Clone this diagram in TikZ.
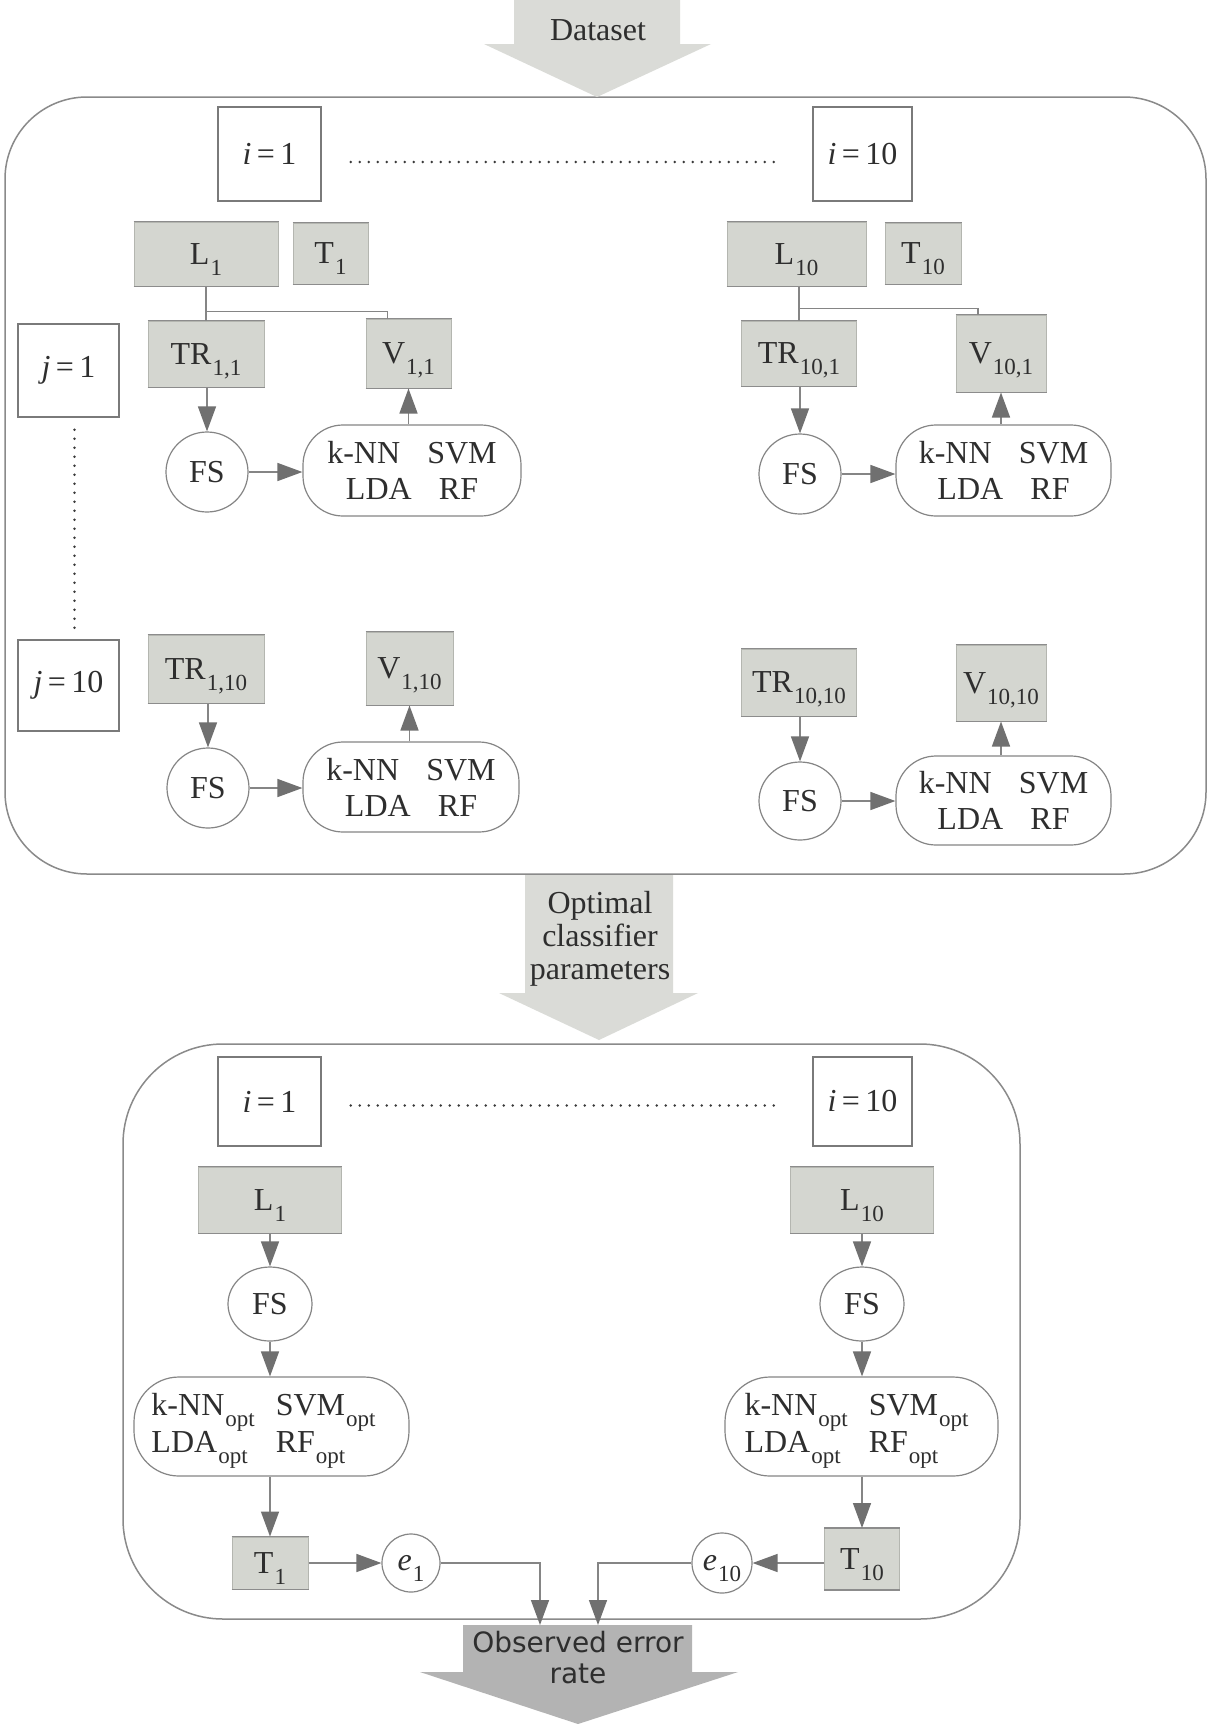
\documentclass[tikz,border=0pt]{standalone}
\usepackage{fontspec}
\setmainfont{Liberation Serif}
\newfontfamily\obsfont{DejaVu Sans}
\usetikzlibrary{arrows.meta,calc,shapes.geometric}
\definecolor{boxfill}{HTML}{D4D6D0}
\definecolor{boxline}{HTML}{B4B6B0}
\definecolor{boxedge}{HTML}{8C8C8C}
\definecolor{arrfill}{HTML}{DADBD7}
\definecolor{obsfill}{HTML}{B3B3B3}
\definecolor{linec}{HTML}{858585}
\definecolor{headc}{HTML}{707070}
\definecolor{txt}{HTML}{2E2E2E}
\definecolor{outline}{HTML}{8A8A8A}
\definecolor{iline}{HTML}{7A7A7A}
\definecolor{dotc}{HTML}{3A3A3A}
\newcommand{\subx}[1]{\kern1pt\raisebox{-0.34em}[0pt][0pt]{\fontsize{23}{23}\selectfont #1}}
\begin{document}
\begin{tikzpicture}[x=1pt,y=-1pt,
  every node/.style={text=txt, font=\fontsize{32}{36}\selectfont, inner sep=0pt},
  gbox/.style={rectangle, fill=boxfill, draw=boxline, line width=1pt,
    append after command={(\tikzlastnode.north west) edge[draw=boxedge, line width=1.6pt] (\tikzlastnode.north east)
      (\tikzlastnode.south west) edge[draw=boxedge, line width=1.6pt] (\tikzlastnode.south east)}},
  ibox/.style={rectangle, fill=white, draw=iline, line width=1.5pt},
  fsnode/.style={ellipse, fill=white, draw=linec, line width=1.2pt},
  enode/.style={circle, fill=white, draw=linec, line width=1.2pt},
  clsbox/.style={rectangle, rounded corners=40pt, fill=white, draw=linec, line width=1.2pt, align=center},
  outerbox/.style={rectangle, draw=outline, line width=1.5pt},
  arr/.style={draw=linec, line width=1.5pt, -{Triangle[length=25pt,width=18pt,color=headc]}},
  plain/.style={draw=linec, line width=1.5pt},
  dotsline/.style={draw=dotc, line width=2.8pt, line cap=round, dash pattern=on 0pt off 9pt}
]
\fill[white] (0,0) rectangle (1208,1724);
\useasboundingbox (0,0) rectangle (1208,1724);

% ---------- outer boxes ----------
\node[outerbox, rounded corners=82pt, minimum width=1201pt, minimum height=777pt] (outerA) at (605.5,485.5) {};
\node[outerbox, rounded corners=100pt, minimum width=897pt, minimum height=575pt] (outerB) at (571.5,1331.5) {};

% ---------- big arrows ----------
\fill[arrfill] (514,0) -- (680,0) -- (680,44) -- (711,44) -- (597,97) -- (484,44) -- (514,44) -- cycle;
\node (dataset) at (598,30) {Dataset};

\fill[arrfill] (525,875) -- (673,875) -- (673,993) -- (698,993) -- (599,1040) -- (499,993) -- (525,993) -- cycle;
\node[align=center, font=\fontsize{32}{33}\selectfont] (optp) at (600,939) {Optimal\\classifier\\parameters};

\fill[obsfill] (463,1625) -- (692,1625) -- (692,1672) -- (738,1672) -- (578,1724) -- (420,1672) -- (463,1672) -- cycle;
\node[align=center, font=\obsfont\fontsize{28}{31}\selectfont] (obs) at (578,1658) {Observed error\\rate};
\coordinate (obsL) at (540,1625);
\coordinate (obsR) at (598,1625);

% ---------- top section: index boxes ----------
\node[ibox, minimum width=103pt, minimum height=94pt] (iA1) at (269.5,154) {\textit{i}\,=\,1};
\node[ibox, minimum width=99pt, minimum height=94pt] (iA10) at (862.5,154) {\textit{i}\,=\,10};
\draw[dotsline] ($(iA1.east)+(29,8)$) -- ($(iA10.west)+(-35,8)$);

\node[ibox, minimum width=101pt, minimum height=93pt] (j1) at (68.5,370.5) {\textit{j}\,=\,1};
\node[ibox, minimum width=101pt, minimum height=91pt] (j10) at (68.5,685.5) {\textit{j}\,=\,10};
\draw[dotsline] ($(j1.south)+(6,12)$) -- ($(j10.north)+(6,-11)$);

% ---------- top-left block ----------
\node[gbox, minimum width=144pt, minimum height=64pt] (LA1) at (206,254) {L\subx{1}};
\node[gbox, minimum width=75pt, minimum height=61pt] (TA1) at (330.5,253.5) {T\subx{1}};
\node[gbox, minimum width=116pt, minimum height=66pt] (TR11) at (206,354) {TR\subx{1,1}};
\node[gbox, minimum width=85pt, minimum height=69pt] (V11) at (408.5,353.5) {V\subx{1,1}};
\node[fsnode, minimum width=82pt, minimum height=80pt] (FS11) at (207,472) {FS};
\node[clsbox, minimum width=218pt, minimum height=91pt] (C11) at (412,470.5) {k-NN\hspace{0.85em}SVM\\LDA\hspace{0.85em}RF};
\draw[plain] (LA1.south) -- (LA1.south |- TR11.north);
\draw[plain] ($(LA1.south)+(0,25)$) -| ($(V11.north)+(-21,0)$);
\draw[arr] (TR11.south -| FS11.north) -- (FS11.north);
\draw[arr] (FS11.east) -- (FS11.east -| C11.west);
\draw[arr] (V11.south |- C11.north) -- (V11.south);

% ---------- top-right block ----------
\node[gbox, minimum width=139pt, minimum height=64pt] (LA10) at (796.5,254) {L\subx{10}};
\node[gbox, minimum width=76pt, minimum height=61pt] (TA10) at (923,253.5) {T\subx{10}};
\node[gbox, minimum width=115pt, minimum height=65pt] (TR101) at (799,353.5) {TR\subx{10,1}};
\node[gbox, minimum width=90pt, minimum height=77pt] (V101) at (1001,353.5) {V\subx{10,1}};
\node[fsnode, minimum width=82pt, minimum height=80pt] (FS101) at (800,474) {FS};
\node[clsbox, minimum width=215pt, minimum height=91pt] (C101) at (1003.5,470.5) {k-NN\hspace{0.85em}SVM\\LDA\hspace{0.85em}RF};
\draw[plain] (TR101.north |- LA10.south) -- (TR101.north);
\draw[plain] ($(TR101.north |- LA10.south)+(0,22)$) -| ($(V101.north)+(-23,0)$);
\draw[arr] (TR101.south -| FS101.north) -- (FS101.north);
\draw[arr] (FS101.east) -- (FS101.east -| C101.west);
\draw[arr] (V101.south |- C101.north) -- (V101.south);

% ---------- j=10 left block ----------
\node[gbox, minimum width=116pt, minimum height=68pt] (TR110) at (206,669) {TR\subx{1,10}};
\node[gbox, minimum width=87pt, minimum height=73pt] (V110) at (409.5,668.5) {V\subx{1,10}};
\node[fsnode, minimum width=82pt, minimum height=80pt] (FS110) at (208,788) {FS};
\node[clsbox, minimum width=216pt, minimum height=90pt] (C110) at (411,787) {k-NN\hspace{0.85em}SVM\\LDA\hspace{0.85em}RF};
\draw[arr] (TR110.south -| FS110.north) -- (FS110.north);
\draw[arr] (FS110.east) -- (FS110.east -| C110.west);
\draw[arr] (V110.south |- C110.north) -- (V110.south);

% ---------- j=10 right block ----------
\node[gbox, minimum width=115pt, minimum height=67pt] (TR1010) at (799,682.5) {TR\subx{10,10}};
\node[gbox, minimum width=90pt, minimum height=76pt] (V1010) at (1001,683) {V\subx{10,10}};
\node[fsnode, minimum width=82pt, minimum height=78pt] (FS1010) at (800,801) {FS};
\node[clsbox, minimum width=215pt, minimum height=89pt] (C1010) at (1003.5,800.5) {k-NN\hspace{0.85em}SVM\\LDA\hspace{0.85em}RF};
\draw[arr] (TR1010.south -| FS1010.north) -- (FS1010.north);
\draw[arr] (FS1010.east) -- (FS1010.east -| C1010.west);
\draw[arr] (V1010.south |- C1010.north) -- (V1010.south);

% ---------- bottom section ----------
\node[ibox, minimum width=103pt, minimum height=89pt] (iB1) at (269.5,1101.5) {\textit{i}\,=\,1};
\node[ibox, minimum width=99pt, minimum height=89pt] (iB10) at (862.5,1101.5) {\textit{i}\,=\,10};
\draw[dotsline] ($(iB1.east)+(29,4)$) -- ($(iB10.west)+(-35,4)$);

\node[gbox, minimum width=143pt, minimum height=66pt] (LB1) at (270,1200) {L\subx{1}};
\node[fsnode, minimum width=84pt, minimum height=74pt] (FSB1) at (270,1304) {FS};
\node[clsbox, rounded corners=45pt, minimum width=275pt, minimum height=99pt] (CB1) at (271.5,1426.5)
  {\fontsize{32}{37}\selectfont\begin{tabular}{@{}l@{\hspace{21pt}}l@{}}k-NN\subx{opt} & SVM\subx{opt}\\ LDA\subx{opt} & RF\subx{opt}\end{tabular}\hspace{16pt}};
\node[gbox, minimum width=76pt, minimum height=52pt] (TB1) at (270,1563) {T\subx{1}};
\node[enode, minimum size=58pt] (e1) at (411,1563) {\textit{e}\subx{1}};

\node[gbox, minimum width=143pt, minimum height=66pt] (LB10) at (862,1200) {L\subx{10}};
\node[fsnode, minimum width=84pt, minimum height=74pt] (FSB10) at (862,1304) {FS};
\node[clsbox, rounded corners=45pt, minimum width=273pt, minimum height=99pt] (CB10) at (861.5,1426.5)
  {\fontsize{32}{37}\selectfont\begin{tabular}{@{}l@{\hspace{21pt}}l@{}}k-NN\subx{opt} & SVM\subx{opt}\\ LDA\subx{opt} & RF\subx{opt}\end{tabular}\hspace{10pt}};
\node[gbox, minimum width=75pt, minimum height=61pt] (TB10) at (862,1559) {T\subx{10}};
\node[enode, minimum size=60pt] (e10) at (722,1563) {\textit{e}\subx{10}};

\draw[arr] (LB1.south) -- (FSB1.north);
\draw[arr] (FSB1.south) -- (FSB1.south |- CB1.north);
\draw[arr] (TB1.north |- CB1.south) -- (TB1.north);
\draw[arr] (TB1.east |- e1.west) -- (e1.west);
\draw[arr] (e1.east) -| (obsL);

\draw[arr] (LB10.south) -- (FSB10.north);
\draw[arr] (FSB10.south) -- (FSB10.south |- CB10.north);
\draw[arr] (TB10.north |- CB10.south) -- (TB10.north);
\draw[arr] (TB10.west |- e10.east) -- (e10.east);
\draw[arr] (e10.west) -| (obsR);
\end{tikzpicture}
\end{document}
